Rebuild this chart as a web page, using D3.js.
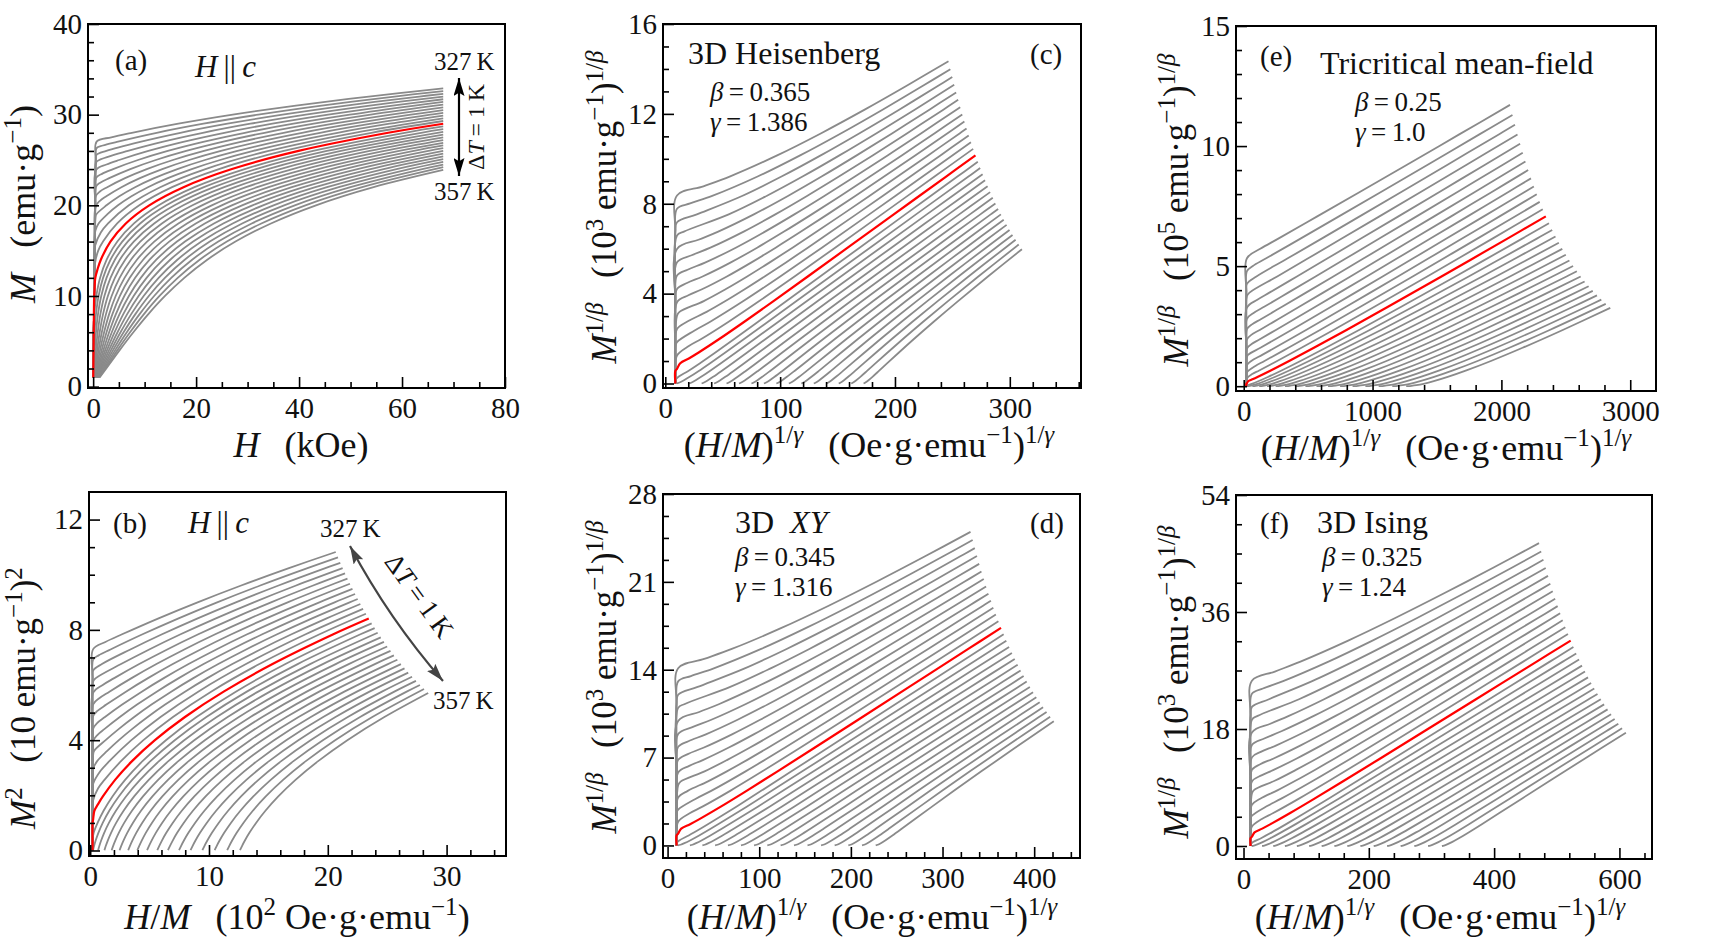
<!DOCTYPE html>
<html><head><meta charset="utf-8">
<script src="https://cdn.jsdelivr.net/npm/d3@7"></script>
<style>
body{margin:0;background:#fff}
text{font-family:"Liberation Serif","Times New Roman",serif;fill:#111}
</style>
</head><body>
<svg id="chart" width="1726" height="949"></svg>
<script>
// ---------------- DATA ----------------
const temperatures = [327,328,329,330,331,332,333,334,335,336,337,338,339,340,341,342,343,344,345,346,347,348,349,350,351,352,353,354,355,356,357];
const highlightTemperature = 340;

// Magnetization M (emu/g) along each isotherm
const magnetization = [
 [1,5,10,15,20,25,27.02,27.5,28,29,30,31,32,32.9],
 [1,5,10,15,20,25,26.31,26.6,27,28,29,30,31,32,32.6],
 [1,5,10,15,20,25,25.55,26,27,28,29,30,31,32,32.3],
 [1,5,10,15,20,24.76,25,26,27,28,29,30,31,32],
 [1,5,10,15,20,23.92,24.5,25,26,27,28,29,30,31,31.7],
 [1,5,10,15,20,23.02,23.5,24,25,26,27,28,29,30,31,31.4],
 [1,5,10,15,20,22.07,22.5,23,24,25,26,27,28,29,30,31.1],
 [1,5,10,15,20,21.02,21.5,22,23,24,25,26,27,28,29,30,30.8],
 [1,5,10,15,19.9,20.5,21,22,23,24,25,26,27,28,29,30,30.5],
 [1,5,10,15,18.63,19,20,21,22,23,24,25,26,27,28,29,30,30.2],
 [1,5,10,15,17.2,18,19,20,21,22,23,24,25,26,27,28,29,29.9],
 [1,5,10,15,15.56,17,18,20,22,24,26,28,29.6],
 [1,5,10,13.49,15,16,18,20,22,24,26,28,29.3],
 [1,5,10,10.63,12,13,14,16,18,20,22,24,26,28,29],
 [1,3,5,6,8,10,12,14,16,18,20,22,24,26,28,28.7],
 [1,4,6,8,10,12,14,16,18,20,22,24,26,28,28.4],
 [1,4,6,8,10,12,14,16,18,20,22,24,26,28.1],
 [1,4,6,8,10,12,14,16,18,20,22,24,26,27.8],
 [1,4,6,8,10,12,14,16,18,20,22,24,26,27.5],
 [1,4,6,8,10,12,14,16,18,20,22,24,26,27.2],
 [1,4,6,8,10,12,14,16,18,20,22,24,26,26.9],
 [1,4,6,8,10,12,14,16,18,20,22,24,26,26.6],
 [1,4,6,8,10,12,14,16,18,20,22,24,26,26.3],
 [1,4,6,8,10,12,14,16,18,20,22,24,26],
 [1,4,6,8,10,12,14,16,18,20,22,24,25.7],
 [1,4,6,8,10,12,14,16,18,20,22,24,25.4],
 [1,4,6,8,10,12,14,16,18,20,22,24,25.1],
 [1,4,6,8,10,12,14,16,18,20,22,24,24.8],
 [1,4,6,8,10,12,14,16,18,20,22,24,24.5],
 [1,4,6,8,10,12,14,16,18,20,22,24.2],
 [1,4,6,8,10,12,14,16,18,20,22,23.9]
];

// H/M (10^2 Oe g/emu) at the same points
const fieldOverM = [
 [0.2,0.2,0.2,0.2,0.2,0.2,0.25,1.282,2.684,5.706,9.041,12.708,16.728,20.669],
 [0.2,0.2,0.2,0.2,0.2,0.2,0.25,0.708,1.71,4.406,7.39,10.686,14.313,18.292,20.859],
 [0.2,0.2,0.2,0.2,0.2,0.2,0.25,0.987,3.383,6.048,9.0,12.261,15.853,19.797,21.053],
 [0.2,0.2,0.2,0.2,0.2,0.25,0.476,2.598,4.969,7.609,10.535,13.769,17.333,21.25],
 [0.2,0.2,0.2,0.2,0.2,0.25,1.057,2.022,4.127,6.48,9.101,12.007,15.222,18.765,21.451],
 [0.2,0.2,0.2,0.2,0.2,0.25,0.767,1.619,3.484,5.577,7.918,10.526,13.419,16.62,20.15,21.656],
 [0.2,0.2,0.2,0.2,0.2,0.25,0.61,1.359,3.007,4.867,6.954,9.289,11.891,14.778,17.973,21.865],
 [0.2,0.2,0.2,0.2,0.2,0.25,0.586,1.244,2.695,4.34,6.197,8.282,10.615,13.214,16.098,19.29,22.078],
 [0.2,0.2,0.2,0.2,0.25,0.641,1.217,2.495,3.949,5.598,7.459,9.548,11.885,14.489,17.377,20.574,22.295],
 [0.2,0.2,0.2,0.2,0.25,0.327,1.298,2.418,3.701,5.162,6.817,8.685,10.781,13.126,15.737,18.634,21.838,22.517],
 [0.2,0.2,0.2,0.2,0.25,0.586,1.434,2.414,3.544,4.838,6.31,7.977,9.858,11.966,14.324,16.949,19.86,22.742],
 [0.2,0.2,0.2,0.2,0.25,0.875,1.612,3.466,5.92,9.091,13.115,18.136,22.973],
 [0.2,0.2,0.2,0.25,0.658,1.201,2.594,4.48,6.967,10.177,14.242,19.306,23.208],
 [0.2,0.2,0.2,0.25,0.35,0.675,1.067,2.096,3.524,5.447,7.977,11.232,15.347,20.466,23.448],
 [0.2,0.2,0.2,0.2,0.294,0.622,1.127,1.874,2.938,4.405,6.373,8.951,12.26,16.433,21.614,23.693],
 [0.24,0.326,0.461,0.691,1.055,1.606,2.407,3.532,5.069,7.115,9.78,13.184,17.46,22.752,23.944],
 [0.669,0.769,0.922,1.178,1.575,2.166,3.015,4.196,5.795,7.911,10.653,14.141,18.509,24.199],
 [1.199,1.31,1.48,1.758,2.184,2.811,3.701,4.93,6.583,8.76,11.569,15.131,19.579,24.46],
 [1.805,1.927,2.111,2.408,2.86,3.518,4.445,5.716,7.418,9.649,12.518,16.145,20.664,24.727],
 [2.474,2.606,2.802,3.118,3.592,4.278,5.238,6.547,8.292,10.57,13.492,17.177,21.759,25.0],
 [3.2,3.34,3.547,3.878,4.373,5.083,6.072,7.415,9.198,11.519,14.488,18.225,22.863,25.279],
 [3.972,4.12,4.337,4.681,5.193,5.924,6.938,8.31,10.126,12.483,15.492,19.273,23.959,25.564],
 [4.79,4.943,5.169,5.525,6.052,6.802,7.838,9.234,11.079,13.468,16.512,20.332,25.06,25.856],
 [5.648,5.807,6.039,6.405,6.945,7.71,8.764,10.182,12.05,14.466,17.54,21.392,26.154],
 [6.545,6.708,6.947,7.32,7.87,8.647,9.716,11.151,13.038,15.475,18.572,22.45,26.459],
 [7.48,7.646,7.888,8.268,8.826,9.613,10.693,12.141,14.043,16.497,19.613,23.511,26.772],
 [8.448,8.616,8.862,9.245,9.808,10.601,11.689,13.145,15.056,17.521,20.648,24.559,27.092],
 [9.445,9.614,9.861,10.248,10.813,11.61,12.701,14.162,16.079,18.55,21.684,25.602,27.419],
 [10.475,10.645,10.892,11.278,11.844,12.641,13.733,15.195,17.113,19.584,22.719,26.638,27.755],
 [11.532,11.701,11.947,12.331,12.895,13.69,14.779,16.237,18.15,20.617,23.747,28.099],
 [12.611,12.778,13.021,13.402,13.961,14.75,15.832,17.282,19.187,21.644,24.763,28.452]
];

// Critical-exponent models of the modified Arrott plots
const modelNames = ["3D Heisenberg", "3D XY", "Tricritical mean-field", "3D Ising"];
const modelBetas = [0.365, 0.345, 0.25, 0.325];
const modelGammas = [1.386, 1.316, 1.0, 1.24];
const modelBetaText = ["0.365", "0.345", "0.25", "0.325"];
const modelGammaText = ["1.386", "1.316", "1.0", "1.24"];
const modelPowerOfTen = [3, 3, 5, 3];

// Tick labels
const ticksA = {x:[0,20,40,60,80], y:[0,10,20,30,40]};
const ticksB = {x:[0,10,20,30], y:[0,4,8,12]};
const ticksC = {x:[0,100,200,300], y:[0,4,8,12,16]};
const ticksD = {x:[0,100,200,300,400], y:[0,7,14,21,28]};
const ticksE = {x:[0,1000,2000,3000], y:[0,5,10,15]};
const ticksF = {x:[0,200,400,600], y:[0,18,36,54]};

// ---------------- DRAWING ----------------
const svg = d3.select('#chart');
svg.append('rect').attr('width',1726).attr('height',949).attr('fill','#fff');
const defs = svg.append('defs');
function arrowMarker(id, color, w, h){
  defs.append('marker').attr('id',id).attr('viewBox',`0 0 ${w} ${h}`)
    .attr('refX',w).attr('refY',h/2).attr('markerWidth',w).attr('markerHeight',h)
    .attr('markerUnits','userSpaceOnUse').attr('orient','auto-start-reverse')
    .append('path').attr('d',`M0,0 L${w},${h/2} L0,${h} L${w*0.18},${h/2} Z`).attr('fill',color);
}
arrowMarker('arrA','#000',18,11);
arrowMarker('arrB','#444',18,11);

function rich(g, x, y, parts, fs, anchor, rot){
  const t = g.append('text').attr('x',x).attr('y',y).attr('font-size',fs)
    .attr('text-anchor',anchor||'start');
  if (rot) t.attr('transform',`rotate(${rot},${x},${y})`);
  let shift = 0;
  for (const p of parts){
    const txt = p[0], st = p[1]||'';
    const sup = st.includes('s');
    const target = sup ? -Math.round(fs*0.38) : 0;
    const ts = t.append('tspan').attr('dy', target-shift).text(txt);
    shift = target;
    if (sup) ts.attr('font-size', Math.round(fs*0.7));
    if (st.includes('i')) ts.attr('font-style','italic');
  }
  return t;
}

const panelSpecs = [
 {id:'a', box:[88,24,505,388], xd:[-1,80], yd:[-0.15,40], ticks:ticksA, xMin:5, yMin:2,
  fx:(m,h)=>h*m/10, fy:(m,h)=>m},
 {id:'b', box:[89,492,506,856], xd:[-0.1,35], yd:[-0.2,13], ticks:ticksB, xMin:2, yMin:1,
  fx:(m,h)=>h, fy:(m,h)=>m*m/100},
 {id:'c', box:[663,24,1081,388], xd:[-2,362], yd:[-0.2,16], ticks:ticksC, xMin:20, yMin:1, model:0},
 {id:'d', box:[663,494,1080,858], xd:[-5,450], yd:[-1,28], ticks:ticksD, xMin:20, yMin:1.75, model:1},
 {id:'e', box:[1236,26,1656,391], xd:[-60,3200], yd:[-0.2,15], ticks:ticksE, xMin:200, yMin:1, model:2},
 {id:'f', box:[1236,495,1652,859], xd:[-12,652], yd:[-2,54], ticks:ticksF, xMin:40, yMin:4.5, model:3}
];

panelSpecs.forEach(p=>{
  if (p.model !== undefined){
    const b = modelBetas[p.model], g = modelGammas[p.model], k = Math.pow(10, modelPowerOfTen[p.model]);
    p.fx = (m,h)=>Math.pow(100*h, 1/g);
    p.fy = (m,h)=>Math.pow(m, 1/b)/k;
  }
  const [x0,y0,x1,y1] = p.box;
  const sx = d3.scaleLinear().domain(p.xd).range([x0,x1]);
  const sy = d3.scaleLinear().domain(p.yd).range([y1,y0]);
  const g = svg.append('g');
  defs.append('clipPath').attr('id','clip'+p.id).append('rect')
    .attr('x',x0).attr('y',y0).attr('width',x1-x0).attr('height',y1-y0);
  const curves = g.append('g').attr('clip-path',`url(#clip${p.id})`);
  const line = d3.line().x(d=>sx(d[0])).y(d=>sy(d[1])).curve(d3.curveCatmullRom.alpha(0.5));
  const order = temperatures.map((t,i)=>i).filter(i=>temperatures[i]!==highlightTemperature)
     .concat(temperatures.map((t,i)=>i).filter(i=>temperatures[i]===highlightTemperature));
  order.forEach(i=>{
    const pts = magnetization[i].map((m,k)=>[p.fx(m, fieldOverM[i][k]), p.fy(m, fieldOverM[i][k])]);
    const red = temperatures[i]===highlightTemperature;
    curves.append('path').attr('d', line(pts)).attr('fill','none')
      .attr('stroke', red ? '#ff0000' : '#8a8a8a').attr('stroke-width', red ? 2.2 : 1.8)
      .attr('stroke-linejoin','round');
  });
  const xMinor = d3.range(0, p.xd[1]+1e-9, p.xMin).filter(v=>!p.ticks.x.some(t=>Math.abs(t-v)<1e-6) && v < p.xd[1]-1e-6);
  const yMinor = d3.range(0, p.yd[1]+1e-9, p.yMin).filter(v=>!p.ticks.y.some(t=>Math.abs(t-v)<1e-6) && v < p.yd[1]-1e-6);
  const style = sel => { sel.select('.domain').remove();
    sel.selectAll('line').attr('stroke','#000').attr('stroke-width',1.6);
    sel.attr('font-family','"Liberation Serif","Times New Roman",serif').attr('font-size',29);
    sel.selectAll('text').attr('fill','#111'); };
  g.append('g').attr('transform',`translate(0,${y1})`)
    .call(d3.axisBottom(sx).tickValues(p.ticks.x).tickSize(-11).tickPadding(9).tickFormat(d3.format('d'))).call(style);
  g.append('g').attr('transform',`translate(0,${y1})`)
    .call(d3.axisBottom(sx).tickValues(xMinor).tickSize(-6).tickFormat('')).call(style);
  g.append('g').attr('transform',`translate(${x0},0)`)
    .call(d3.axisLeft(sy).tickValues(p.ticks.y).tickSize(-11).tickPadding(6).tickFormat(d3.format('d'))).call(style);
  g.append('g').attr('transform',`translate(${x0},0)`)
    .call(d3.axisLeft(sy).tickValues(yMinor).tickSize(-6).tickFormat('')).call(style);
  g.append('rect').attr('x',x0).attr('y',y0).attr('width',x1-x0).attr('height',y1-y0)
    .attr('fill','none').attr('stroke','#000').attr('stroke-width',2);
});

// ---------------- TEXT ----------------
const T = svg.append('g');
const SP = '\u2002\u2009';
rich(T, 35, 204, [['M','i'],[SP+'(emu·g'],['−1','s'],[')']], 36, 'middle', -90);
rich(T, 301, 457, [['H','i'],[SP+'(kOe)']], 36, 'middle');
rich(T, 35, 698, [['M','i'],['2','s'],[SP+'(10 emu·g'],['−1','s'],[')'],['2','s']], 35, 'middle', -90);
rich(T, 297, 929, [['H','i'],['/'],['M','i'],[SP+'(10'],['2','s'],[' Oe·g·emu'],['−1','s'],[')']], 36, 'middle');
const yLab = e => [['M','i'],['1/','s'],['β','si'],[SP+'(10'],[String(e),'s'],[' emu·g'],['−1','s'],[')'],['1/','s'],['β','si']];
const xLab = [['('],['H','i'],['/'],['M','i'],[')'],['1/','s'],['γ','si'],[SP+'(Oe·g·emu'],['−1','s'],[')'],['1/','s'],['γ','si']];
rich(T, 616, 207, yLab(modelPowerOfTen[0]), 35, 'middle', -90);
rich(T, 616, 677, yLab(modelPowerOfTen[1]), 35, 'middle', -90);
rich(T, 1188, 210, yLab(modelPowerOfTen[2]), 35, 'middle', -90);
rich(T, 1188, 682, yLab(modelPowerOfTen[3]), 35, 'middle', -90);
rich(T, 869, 457, xLab, 36, 'middle');
rich(T, 872, 929, xLab, 36, 'middle');
rich(T, 1446, 460, xLab, 36, 'middle');
rich(T, 1440, 929, xLab, 36, 'middle');

// panel (a)
rich(T, 115, 70, [['(a)']], 29);
rich(T, 195, 77, [['H','i'],['\u2009||\u2009'],['c','i']], 31);
rich(T, 434, 70, [['327\u2009K']], 25);
rich(T, 434, 200, [['357\u2009K']], 25);
T.append('line').attr('x1',459).attr('y1',78).attr('x2',459).attr('y2',176)
  .attr('stroke','#000').attr('stroke-width',2.2)
  .attr('marker-start','url(#arrA)').attr('marker-end','url(#arrA)');
rich(T, 484, 127, [['Δ'],['T','i'],['\u2009=\u20091\u2009K']], 24, 'middle', -90);

// panel (b)
rich(T, 113, 533, [['(b)']], 29);
rich(T, 188, 533, [['H','i'],['\u2009||\u2009'],['c','i']], 31);
rich(T, 320, 537, [['327\u2009K']], 25);
rich(T, 433, 709, [['357\u2009K']], 25);
T.append('path').attr('d','M350,546 Q389,619 443,681').attr('fill','none')
  .attr('stroke','#444').attr('stroke-width',2.2)
  .attr('marker-start','url(#arrB)').attr('marker-end','url(#arrB)');
rich(T, 412, 601, [['Δ'],['T','i'],['\u2009=\u20091\u2009K']], 27, 'middle', 54);

// model panels
const modelPanelText = [
 {name:[[modelNames[0]]], nx:688, ny:64, lab:'(c)', lx:1030, bx:710, by:101},
 {name:[['3D\u2002'],['XY','i']], nx:735, ny:533, lab:'(d)', lx:1030, bx:735, by:566},
 {name:[[modelNames[2]]], nx:1320, ny:74, lab:'(e)', lx:1260, bx:1355, by:111, ly:66},
 {name:[[modelNames[3]]], nx:1317, ny:533, lab:'(f)', lx:1260, bx:1322, by:566}
];
modelPanelText.forEach((m,i)=>{
  rich(T, m.nx, m.ny, m.name, 32);
  rich(T, m.lx, m.ly||m.ny, [[m.lab]], 29);
  rich(T, m.bx, m.by, [['β','i'],['\u2009=\u2009'+modelBetaText[i]]], 27);
  rich(T, m.bx, m.by+30, [['γ','i'],['\u2009=\u2009'+modelGammaText[i]]], 27);
});
</script>
</body></html>
